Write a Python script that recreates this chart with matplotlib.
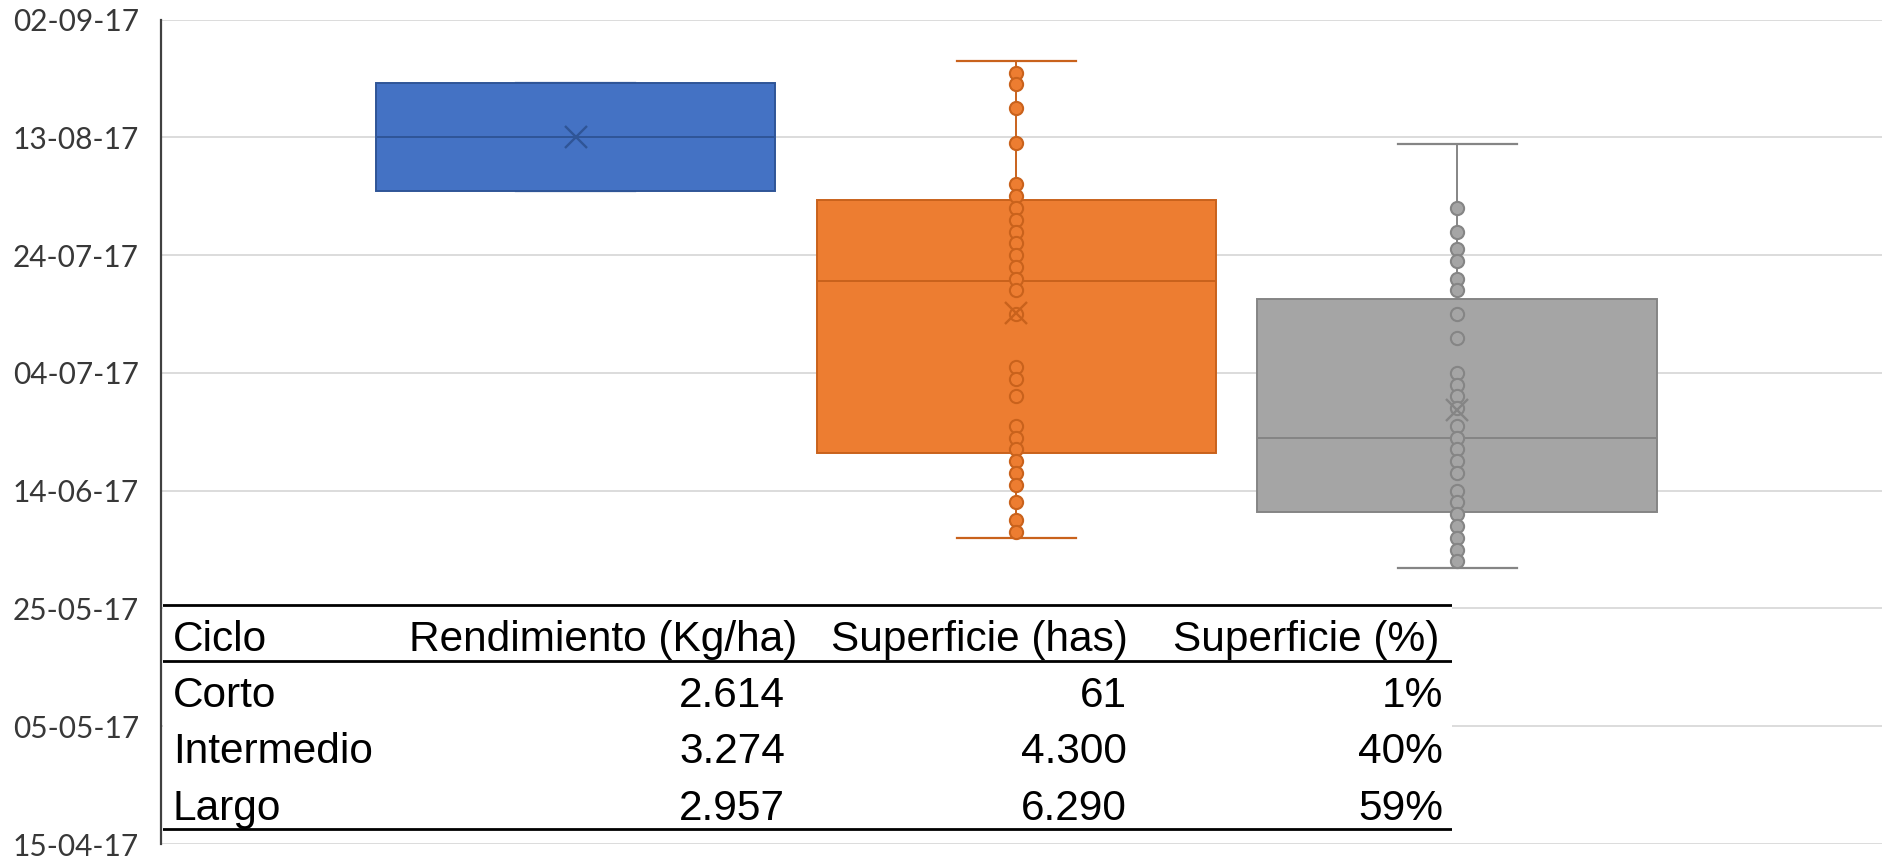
import datetime
import numpy as np
import matplotlib
matplotlib.use('Agg')
import matplotlib.pyplot as plt
from matplotlib.ticker import FuncFormatter

# fechas expresadas como dias desde el 15-04-17
fecha_base = datetime.date(2017, 4, 15)

ciclos = ['Corto', 'Intermedio', 'Largo']
q1 = [110.9, 66.4, 56.3]
mediana = [120.1, 95.6, 69.0]
q3 = [129.3, 109.4, 92.5]
bigote_inf = [110.9, 51.9, 46.9]
bigote_sup = [129.3, 133.0, 118.8]
media = [120.1, 90.2, 73.7]

puntos_corto = []
puntos_intermedio = [131, 129, 125, 119, 112, 110, 108, 106, 104, 102, 100, 98, 96, 94,
                     90, 81, 79, 76, 71, 69, 67, 65, 63, 61, 58, 55, 53]
puntos_largo = [108, 104, 101, 99, 96, 94, 90, 86, 80, 78, 76, 74, 71, 69, 67, 65,
                63, 60, 58, 56, 54, 52, 50, 48]

# tabla
columnas = ['Ciclo', 'Rendimiento (Kg/ha)', 'Superficie (has)', 'Superficie (%)']
rendimiento = [2614, 3274, 2957]
superficie_has = [61, 4300, 6290]
superficie_pct = [1, 40, 59]

relleno = ['#4472C4', '#ED7D31', '#A5A5A5']
borde = ['#2F5597', '#C9621C', '#858585']

W, H = 1883, 860
fig = plt.figure(figsize=(W / 100, H / 100), dpi=100)
ax = fig.add_axes([161 / W, 1 - 844 / H, 1 - 161 / W, (844 - 19.5) / H])

stats = []
for i in range(3):
    stats.append({'med': mediana[i], 'q1': q1[i], 'q3': q3[i],
                  'whislo': bigote_inf[i], 'whishi': bigote_sup[i],
                  'mean': media[i], 'fliers': []})
pos = [1, 2, 3]
bp = ax.bxp(stats, positions=pos, widths=0.907, capwidths=0.27,
            patch_artist=True, showfliers=False, showmeans=False)
for i in range(3):
    bp['boxes'][i].set(facecolor=relleno[i], edgecolor=borde[i], linewidth=1.4, zorder=2)
    bp['medians'][i].set(color=borde[i], linewidth=1.4, zorder=2.5)
    for w in bp['whiskers'][2 * i:2 * i + 2]:
        w.set(color=borde[i], linewidth=1.4, zorder=1.5)
    for c in bp['caps'][2 * i:2 * i + 2]:
        c.set(color=borde[i], linewidth=1.6, zorder=1.5)

for i, pts in enumerate([puntos_corto, puntos_intermedio, puntos_largo]):
    if pts:
        ax.plot(np.full(len(pts), pos[i]), pts, 'o', ms=9.5, mfc=relleno[i],
                mec=borde[i], mew=1.5, zorder=3)
    ax.plot(pos[i], media[i], 'x', ms=16, mec=borde[i], mew=1.7, zorder=4)

ax.set_xlim(0.06, 3.965)
ax.set_ylim(0, 140)
ax.set_yticks(np.arange(0, 141, 20))
ax.yaxis.set_major_formatter(FuncFormatter(
    lambda v, p: (fecha_base + datetime.timedelta(days=int(round(v)))).strftime('%d-%m-%y')))
ax.set_xticks([])
ax.yaxis.grid(True, color='#d9d9d9', linewidth=1.3)
ax.set_axisbelow(True)
for s in ['top', 'right', 'bottom']:
    ax.spines[s].set_visible(False)
ax.spines['left'].set_color('#404040')
ax.spines['left'].set_linewidth(1.6)
ax.tick_params(axis='y', length=0, pad=16, labelsize=21.5, labelcolor='#383838')
for t in ax.get_yticklabels():
    t.set_fontfamily('Lato')

# tabla superpuesta
tab = fig.add_axes([163 / W, 1 - 832 / H, (1452 - 163) / W, (832 - 603) / H])
tab.set_facecolor('white')
tab.set_xlim(163, 1452)
tab.set_ylim(832, 603)
tab.set_xticks([])
tab.set_yticks([])
for s in tab.spines.values():
    s.set_visible(False)
for yl in [605, 661, 829]:
    tab.axhline(yl, color='black', linewidth=2)

fuente = dict(fontsize=30.5, family='Liberation Sans', color='black', va='baseline')
tab.text(173, 651, columnas[0], ha='left', **fuente)
for x, col in zip([797, 1128, 1439], columnas[1:]):
    tab.text(x, 651, col, ha='right', **fuente)

filas_y = [707, 763, 820]
for i in range(3):
    tab.text(173, filas_y[i], ciclos[i], ha='left', **fuente)
    tab.text(785, filas_y[i], f'{rendimiento[i]:,}'.replace(',', '.'), ha='right', **fuente)
    tab.text(1127, filas_y[i], f'{superficie_has[i]:,}'.replace(',', '.'), ha='right', **fuente)
    tab.text(1443, filas_y[i], f'{superficie_pct[i]}%', ha='right', **fuente)

fig.savefig('out.png', dpi=100)
